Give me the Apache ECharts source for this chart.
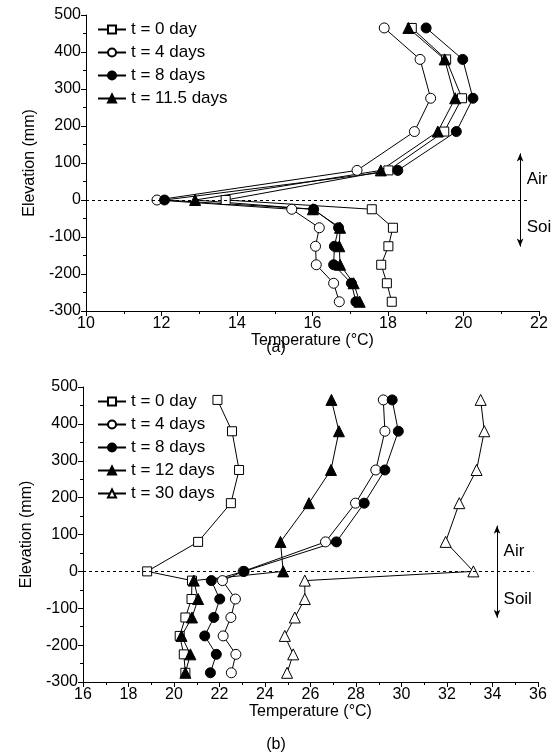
<!DOCTYPE html>
<html><head><meta charset="utf-8">
<script src="https://cdn.jsdelivr.net/npm/echarts@6/dist/echarts.min.js"></script>
<style>body{margin:0;background:#fff}#c{width:552px;height:756px}</style>
</head><body><div id="c"></div>
<script>
// elevations (mm), shared by both panels
var elev = [465, 380, 275, 185, 80, 0, -25, -75, -125, -175, -225, -275];

// panel (a)
var aNames = ['t = 0 day', 't = 4 days', 't = 8 days', 't = 11.5 days'];
var a0 = [18.63, 19.54, 19.96, 19.49, 18.01, 13.70, 17.57, 18.13, 18.01, 17.82, 17.97, 18.10];
var a4 = [17.90, 18.85, 19.13, 18.70, 17.18, 11.88, 15.45, 16.18, 16.08, 16.10, 16.56, 16.71];
var a8 = [19.01, 19.98, 20.25, 19.81, 18.26, 12.08, 16.03, 16.69, 16.58, 16.56, 17.03, 17.15];
var a115 = [18.54, 19.50, 19.78, 19.32, 17.81, 12.89, 16.01, 16.73, 16.71, 16.73, 17.09, 17.25];

// panel (b)
var bNames = ['t = 0 day', 't = 4 days', 't = 8 days', 't = 12 days', 't = 30 days'];
var b0 = [21.91, 22.55, 22.86, 22.50, 21.06, 18.82, 20.79, 20.77, 20.50, 20.25, 20.43, 20.50];
var b4 = [29.20, 29.27, 28.87, 27.98, 26.66, 23.04, 22.13, 22.70, 22.50, 22.16, 22.72, 22.52];
var b8 = [29.59, 29.86, 29.27, 28.36, 27.14, 23.08, 21.64, 22.01, 21.75, 21.35, 21.86, 21.60];
var b12 = [26.92, 27.25, 26.90, 25.93, 24.68, 24.80, 20.87, 21.06, 20.79, 20.33, 20.72, 20.50];
var b30 = [33.48, 33.64, 33.30, 32.54, 31.94, 33.16, 25.75, 25.75, 25.31, 24.87, 25.24, 24.97];

var F = 'Liberation Sans, Arial, sans-serif';
var FS = 16;
var styles = [
  {symbol: 'rect', size: 9, fill: '#fff'},
  {symbol: 'circle', size: 10, fill: '#fff'},
  {symbol: 'circle', size: 10, fill: '#000'},
  {symbol: 'triangle', size: 11, fill: '#000'},
  {symbol: 'triangle', size: 11, fill: '#fff'}
];

function mk(name, xs, idx, st) {
  return {
    name: name, type: 'line', xAxisIndex: idx, yAxisIndex: idx,
    data: xs.map(function (v, i) { return [v, elev[i]]; }),
    symbol: st.symbol, symbolSize: st.size, z: 3,
    lineStyle: {color: '#000', width: 1},
    itemStyle: {color: st.fill, borderColor: '#000', borderWidth: 1},
    animation: false
  };
}

function xAx(idx, min, max, step) {
  return {
    gridIndex: idx, type: 'value', min: min, max: max, interval: step,
    name: 'Temperature (\u00B0C)', nameLocation: 'middle', nameGap: 19,
    nameTextStyle: {fontFamily: F, fontSize: FS, color: '#000'},
    axisLine: {onZero: false, lineStyle: {color: '#000'}},
    axisTick: {lineStyle: {color: '#000'}, length: 5},
    minorTick: {show: true, splitNumber: 2, length: 3, lineStyle: {color: '#000'}},
    axisLabel: {fontFamily: F, fontSize: FS, color: '#000', margin: 5},
    splitLine: {show: false}
  };
}
function yAx(idx) {
  return {
    gridIndex: idx, type: 'value', min: -300, max: 500, interval: 100,
    name: 'Elevation (mm)', nameLocation: 'middle', nameGap: 46,
    nameTextStyle: {fontFamily: F, fontSize: FS, color: '#000'},
    axisLine: {show: true, lineStyle: {color: '#000'}},
    axisTick: {show: true, lineStyle: {color: '#000'}, length: 5},
    minorTick: {show: true, splitNumber: 2, length: 3, lineStyle: {color: '#000'}},
    axisLabel: {fontFamily: F, fontSize: FS, color: '#000', margin: 5},
    splitLine: {show: false}
  };
}

function guide(idx, xArrow, xMin, xMax, yTop) {
  return {
    type: 'line', xAxisIndex: idx, yAxisIndex: idx, data: [], silent: true,
    markLine: {
      silent: true, animation: false, symbol: 'none', label: {show: false},
      lineStyle: {color: '#000', type: [3, 3], width: 1},
      data: [
        [{coord: [xMin, 0]}, {coord: [xMax, 0]}],
        [{coord: [xArrow, yTop], symbol: 'arrow', symbolSize: [5, 8]},
         {coord: [xArrow, -126], symbol: 'arrow', symbolSize: [5, 8], lineStyle: {type: 'solid'}}]
      ]
    },
    markPoint: {
      silent: true, animation: false, symbol: 'rect', symbolSize: 1,
      itemStyle: {color: 'transparent'},
      label: {show: true, color: '#000', fontFamily: F, fontSize: FS + 1, position: 'right', offset: [1, 0]},
      data: [
        {coord: [xArrow, 55], label: {formatter: 'Air'}},
        {coord: [xArrow, -75], label: {formatter: 'Soil'}}
      ]
    }
  };
}

var series = [
  mk(aNames[0], a0, 0, styles[0]), mk(aNames[1], a4, 0, styles[1]),
  mk(aNames[2], a8, 0, styles[2]), mk(aNames[3], a115, 0, styles[3]),
  mk(bNames[0] + ' ', b0, 1, styles[0]), mk(bNames[1] + ' ', b4, 1, styles[1]),
  mk(bNames[2] + ' ', b8, 1, styles[2]), mk(bNames[3] + ' ', b12, 1, styles[3]),
  mk(bNames[4] + ' ', b30, 1, styles[4]),
  guide(0, 21.5, 10, 21.7, 126),
  guide(1, 34.2, 16, 35.8, 124)
];

function leg(names, top) {
  return {
    data: names, orient: 'vertical', left: 92, top: top, itemGap: 6,
    itemWidth: 28, itemHeight: 10,
    textStyle: {fontFamily: F, fontSize: FS + 1, color: '#000'},
    selectedMode: false
  };
}

var chart = echarts.init(document.getElementById('c'), null, {renderer: 'canvas'});
chart.setOption({
  backgroundColor: '#fff',
  animation: false,
  grid: [
    {left: 86, right: 13, top: 15, height: 296},
    {left: 83, right: 14, top: 387, height: 295}
  ],
  xAxis: [xAx(0, 10, 22, 2), xAx(1, 16, 36, 2)],
  yAxis: [yAx(0), yAx(1)],
  legend: [
    leg(aNames, 16),
    leg(bNames.map(function (n) { return n + ' '; }), 388)
  ],
  graphic: [
    {type: 'text', left: 'center', top: 340, style: {text: '(a)', font: FS + 'px ' + F, fill: '#000'}},
    {type: 'text', left: 'center', top: 737, style: {text: '(b)', font: FS + 'px ' + F, fill: '#000'}}
  ],
  series: series
});
</script></body></html>
